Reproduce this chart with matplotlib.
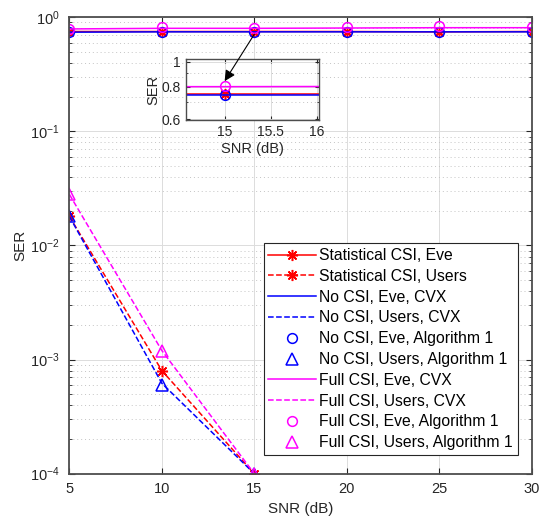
import numpy as np
import matplotlib
matplotlib.use('Agg')
import matplotlib.pyplot as plt
from matplotlib.ticker import LogLocator, NullFormatter, FixedLocator

plt.rcParams['font.family'] = ['Liberation Sans', 'DejaVu Sans']
plt.rcParams['mathtext.fontset'] = 'custom'
plt.rcParams['mathtext.rm'] = 'Liberation Sans'
plt.rcParams['mathtext.it'] = 'Liberation Sans:italic'
plt.rcParams['mathtext.bf'] = 'Liberation Sans:bold'

# data
snr = [5, 10, 15, 20, 25, 30]
stat_eve = [0.75, 0.75, 0.75, 0.75, 0.745, 0.75]
stat_users = [0.018, 8.0e-4, 1.0e-4, 0, 0, 0]
nocsi_eve_cvx = [0.74, 0.745, 0.745, 0.745, 0.745, 0.745]
nocsi_users_cvx = [0.018, 6.2e-4, 1.0e-4, 0, 0, 0]
nocsi_eve_alg = [0.74, 0.745, 0.745, 0.745, 0.74, 0.745]
nocsi_users_alg = [0.018, 6.0e-4, 1.0e-4, 0, 0, 0]
full_eve_cvx = [0.79, 0.80, 0.80, 0.805, 0.81, 0.81]
full_users_cvx = [0.028, 1.2e-3, 1.0e-4, 0, 0, 0]
full_eve_alg = [0.79, 0.815, 0.805, 0.815, 0.83, 0.815]
full_users_alg = [0.028, 1.2e-3, 1.0e-4, 0, 0, 0]

labels = ['Statistical CSI, Eve', 'Statistical CSI, Users',
          'No CSI, Eve, CVX', 'No CSI, Users, CVX',
          'No CSI, Eve, Algorithm 1', 'No CSI, Users, Algorithm 1',
          'Full CSI, Eve, CVX', 'Full CSI, Users, CVX',
          'Full CSI, Eve, Algorithm 1', 'Full CSI, Users, Algorithm 1']

axcol = '#262626'
star = (8, 2, 0)  # asterisk like MATLAB '*'
fig = plt.figure(figsize=(5.42, 5.23), dpi=100)
ax = fig.add_axes([0.128, 0.0943, 0.853, 0.8727])


def draw_curves(a, with_labels=True):
    lab = labels if with_labels else [None] * 10
    a.plot(snr, stat_eve, 'r-', marker=star, lw=1.1, ms=8, mew=1.1, label=lab[0])
    a.plot(snr, stat_users, 'r--', marker=star, lw=1.1, ms=8, mew=1.1, label=lab[1])
    a.plot(snr, nocsi_eve_cvx, 'b-', lw=1.1, label=lab[2])
    a.plot(snr, nocsi_users_cvx, 'b--', lw=1.1, label=lab[3])
    a.plot(snr, nocsi_eve_alg, 'bo', ms=7, mfc='none', mew=1.1, label=lab[4])
    a.plot(snr, nocsi_users_alg, 'b^', ms=8, mfc='none', mew=1.1, label=lab[5])
    a.plot(snr, full_eve_cvx, '-', color='#ff00ff', lw=1.1, label=lab[6])
    a.plot(snr, full_users_cvx, '--', color='#ff00ff', lw=1.1, label=lab[7])
    a.plot(snr, full_eve_alg, 'o', color='#ff00ff', ms=7, mfc='none', mew=1.1, label=lab[8])
    a.plot(snr, full_users_alg, '^', color='#ff00ff', ms=8, mfc='none', mew=1.1, label=lab[9])


draw_curves(ax)
ax.set_yscale('log', nonpositive='mask')
ax.set_xlim(5, 30)
ax.set_ylim(1e-4, 1)
ax.set_xticks([5, 10, 15, 20, 25, 30])
ax.yaxis.set_major_locator(LogLocator(base=10, numticks=10))
ax.yaxis.set_minor_locator(LogLocator(base=10, subs=np.arange(2, 10), numticks=20))
ax.yaxis.set_minor_formatter(NullFormatter())
ax.grid(True, which='major', color='#dcdcdc', lw=0.7, ls='-')
ax.grid(True, which='minor', axis='y', color='#c4c4c4', lw=0.7, ls=(0, (1, 3)))
ax.set_axisbelow(True)
ax.tick_params(which='both', direction='in', top=True, right=True, colors=axcol)
ax.tick_params(axis='x', labelsize=10.5, pad=6)
ax.tick_params(axis='y', labelsize=10.5, pad=7)
ax.tick_params(which='major', length=4)
ax.tick_params(which='minor', length=2)
for sp in ax.spines.values():
    sp.set_color('#4d4d4d')
    sp.set_linewidth(1.3)
ax.set_xlabel('SNR (dB)', fontsize=11, color=axcol, labelpad=4)
ax.set_ylabel('SER', fontsize=11, color=axcol, labelpad=2)

leg = ax.legend(loc='lower right', bbox_to_anchor=(0.970, 0.041),
                fontsize=11.3, handlelength=3.0, borderaxespad=0,
                labelspacing=0.37, handletextpad=0.25, fancybox=False,
                edgecolor='#262626', framealpha=1, borderpad=0.3)
leg.get_frame().set_linewidth(0.8)

# zoomed inset
axin = fig.add_axes([0.343, 0.7706, 0.245, 0.116])
draw_curves(axin, with_labels=False)
axin.set_yscale('log')
axin.set_xlim(14.58, 16.02)
axin.set_ylim(0.595, 1.02)
axin.yaxis.set_major_locator(FixedLocator([0.6, 0.8, 1.0]))
axin.yaxis.set_minor_locator(FixedLocator([0.7, 0.9]))
axin.yaxis.set_minor_formatter(NullFormatter())
axin.set_yticklabels(['0.6', '0.8', '1'])
axin.set_xticks([15, 15.5, 16])
axin.set_xticklabels(['15', '15.5', '16'])
axin.grid(True, which='major', color='#dcdcdc', lw=0.7, ls='-')
axin.grid(True, which='minor', axis='y', color='#c4c4c4', lw=0.7, ls=(0, (1, 3)))
axin.set_axisbelow(True)
axin.tick_params(which='both', direction='in', top=True, right=True,
                 colors=axcol, labelsize=10)
axin.tick_params(which='major', length=3)
axin.tick_params(which='minor', length=1.5)
for sp in axin.spines.values():
    sp.set_color('#4d4d4d')
    sp.set_linewidth(1.0)
axin.set_xlabel('SNR (dB)', fontsize=10.5, color=axcol, labelpad=2)
axin.set_ylabel('SER', fontsize=10.5, color=axcol, labelpad=1)

axin.annotate('', xy=(15, 0.84), xycoords='data',
              xytext=(15, 0.71), textcoords=ax.transData,
              arrowprops=dict(arrowstyle='-|>', color='k', lw=0.8,
                              mutation_scale=16, shrinkA=0, shrinkB=0),
              annotation_clip=False)

fig.savefig('out.png', dpi=100)
